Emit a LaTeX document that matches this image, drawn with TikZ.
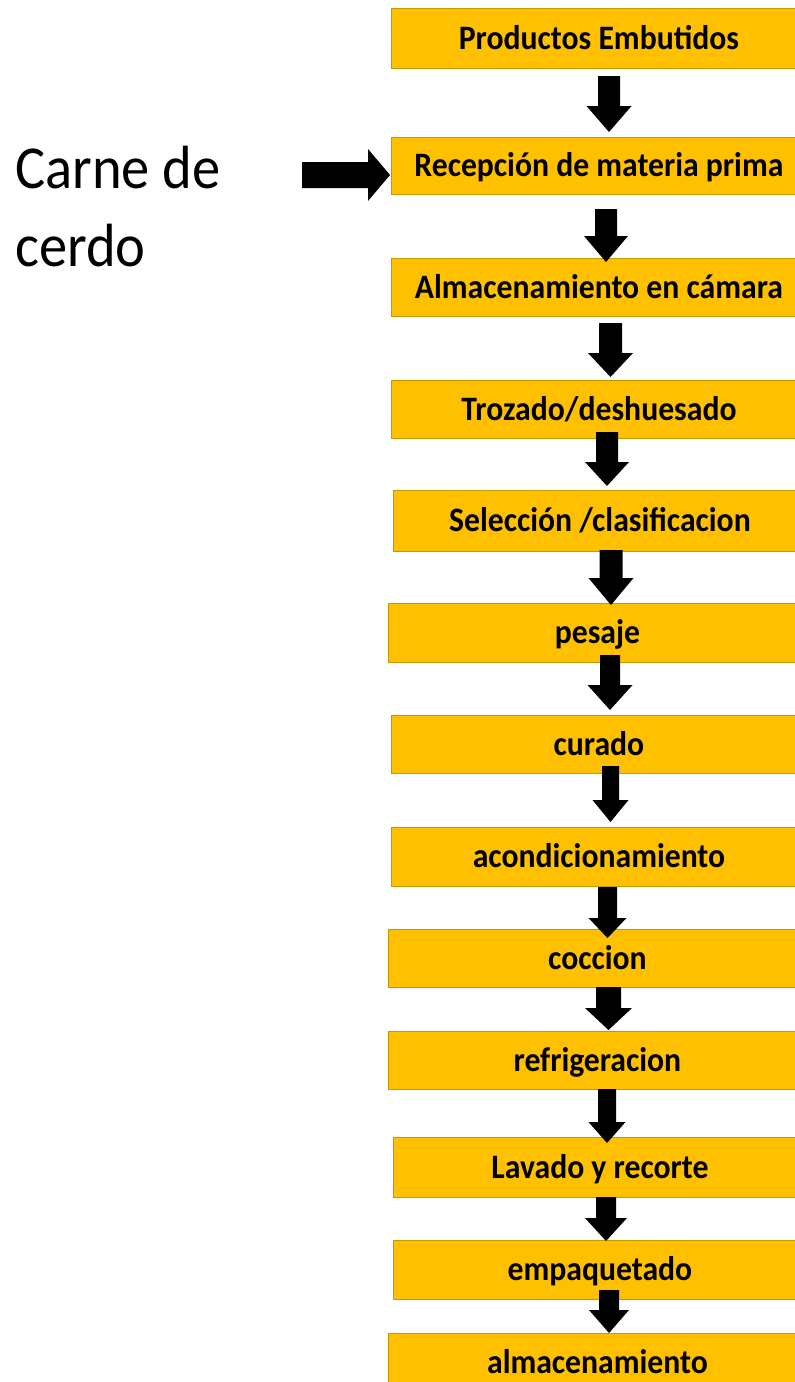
\documentclass[tikz,border=0pt]{standalone}
\usepackage{fontspec}
\setmainfont{Carlito}
\usepackage{graphicx}
\definecolor{stepfill}{HTML}{FFC000}
\definecolor{stepedge}{HTML}{C59A00}
\newcommand\tall[1]{\scalebox{1}[1.08]{#1}}
\tikzset{
  stepbox/.style={draw=stepedge, line width=0.9pt, fill=stepfill,
    anchor=north west, inner sep=0pt, text height=22pt, text depth=0pt,
    font=\bfseries\fontsize{31.7}{38}\selectfont},
  blockarrow/.style={fill=black},
  inputlabel/.style={anchor=base west, inner sep=0pt,
    font=\fontsize{56.5}{73}\selectfont},
}
\begin{document}
\begin{tikzpicture}[x=1pt,y=-1pt]
\useasboundingbox (0,0) rectangle (795,1382);
\clip (0,0) rectangle (795,1382);
\fill[white] (0,0) rectangle (795,1382);

% process steps (boxes run past the right edge)
\node[stepbox, minimum width=415pt, minimum height=60pt] (b1)  at (391,8)    {\tall{Productos Embutidos}};
\node[stepbox, minimum width=415pt, minimum height=57pt] (b2)  at (391,137)  {\tall{Recepción de materia prima}};
\node[stepbox, minimum width=415pt, minimum height=58pt] (b3)  at (391,258)  {\tall{Almacenamiento en cámara}};
\node[stepbox, minimum width=415pt, minimum height=58pt] (b4)  at (391,380)  {\tall{Trozado/deshuesado}};
\node[stepbox, minimum width=413pt, minimum height=61pt] (b5)  at (393,490)  {\tall{Selección /clasificacion}};
\node[stepbox, minimum width=418pt, minimum height=59pt] (b6)  at (388,603)  {\tall{pesaje}};
\node[stepbox, minimum width=415pt, minimum height=58pt] (b7)  at (391,715)  {\tall{curado}};
\node[stepbox, minimum width=415pt, minimum height=59pt] (b8)  at (391,827)  {\tall{acondicionamiento}};
\node[stepbox, minimum width=418pt, minimum height=58pt] (b9)  at (388,929)  {\tall{coccion}};
\node[stepbox, minimum width=418pt, minimum height=58pt] (b10) at (388,1031) {\tall{refrigeracion}};
\node[stepbox, minimum width=413pt, minimum height=60pt] (b11) at (393,1137) {\tall{Lavado y recorte}};
\node[stepbox, minimum width=413pt, minimum height=59pt] (b12) at (393,1240) {\tall{empaquetado}};
\node[stepbox, minimum width=418pt, minimum height=58pt] (b13) at (388,1333) {\tall{almacenamiento}};

% downward block arrows: centre x / shaft top / head start / tip / shaft half width / head half width
\foreach \cx/\ya/\yb/\yc/\sw/\hw in {
  609/76/106/132/11/22.5,
  606/209/236/262/11/22,
  610.5/323/353/377/11.5/22.5,
  607/432/462/486/11/22,
  611/550/578/605/11.5/22.5,
  610/655/685/710/10/22.5,
  610.5/766/800/822/8.5/18,
  607.5/887/918/938/9.5/19,
  608.5/987/1008/1030/12.5/23.5,
  607/1089/1122/1143/9/18.5,
  606/1197/1218/1241/10/21,
  609/1290/1310/1333/10/20}
{
  \fill[blockarrow] (\cx-\sw,\ya) -- (\cx+\sw,\ya) -- (\cx+\sw,\yb) -- (\cx+\hw,\yb)
    -- (\cx,\yc) -- (\cx-\hw,\yb) -- (\cx-\sw,\yb) -- cycle;
}

% raw material input
\node[inputlabel] (src) at (15,188)
  {\tall{\begin{tabular}[t]{@{}l@{}}Carne de\\cerdo\end{tabular}}};
\coordinate (in) at (302,175);
\fill[blockarrow] (in) ++(0,-13) -- (368,162) -- (368,149) -- (390,175)
  -- (368,201) -- (368,188) -- (302,188) -- cycle;
\end{tikzpicture}
\end{document}
